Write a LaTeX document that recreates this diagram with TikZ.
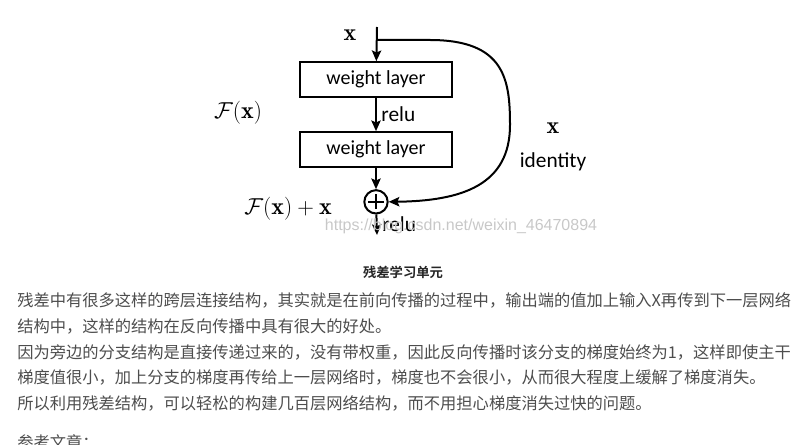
\documentclass[tikz,border=0pt]{standalone}
\usepackage{fontspec}
\usepackage{amsmath}
\setsansfont{Carlito}
\newfontfamily\cjkfont[BoldFont={Noto Sans CJK SC Bold}]{Noto Sans CJK SC}
\newfontfamily\urlfont{Liberation Sans}
\usetikzlibrary{arrows.meta, positioning}
\definecolor{bodygrey}{RGB}{77, 77, 77}
\definecolor{markgrey}{RGB}{200, 200, 200}

\begin{document}
\begin{tikzpicture}[x=0.75pt, y=-0.75pt,
    layer/.style={rectangle, draw, line width=1.5pt, minimum width=114pt, minimum height=26pt, font=\sffamily\fontsize{15}{17}\selectfont},
    adder/.style={circle, draw, line width=1.5pt, minimum size=17.5pt, inner sep=0pt,
        path picture={\draw[line width=1.6pt]
            ([xshift=3pt]path picture bounding box.west) -- ([xshift=-3pt]path picture bounding box.east)
            ([yshift=-3pt]path picture bounding box.north) -- ([yshift=3pt]path picture bounding box.south);}},
    arrow/.style={-{Stealth[length=8pt, width=7pt, inset=1.5pt]}, line width=1.5pt},
    lbl/.style={font=\sffamily\fontsize{16}{18}\selectfont},
    mathlbl/.style={font=\fontsize{18}{20}\selectfont},
    body/.style={anchor=west, inner sep=0pt, text=bodygrey, font=\cjkfont\fontsize{12.2}{14}\selectfont}
]
\useasboundingbox (0,0) rectangle (809,445);
\clip (0,0) rectangle (809,445);

% residual block
\coordinate (xin) at (377,27);
\coordinate (split) at (377,40);
\node (w1)   [layer] at (376,79.5) {weight layer};
\node (w2)   [layer, below=25pt of w1] {weight layer};
\node (plus) [adder, below=16pt of w2] {};
\coordinate (out) at (377,235);

\draw [arrow] (xin) -- (w1);
\draw [arrow] (w1) -- node[lbl, right] {relu} (w2);
\draw [arrow] (w2) -- (plus);
\draw [arrow] (plus) -- node[lbl, right, pos=0.45] {relu} (out);
\draw [arrow] (split) -- (430,40) .. controls (505,40) and (510,80) .. (510,125)
    .. controls (510,185) and (462,201) .. (plus.east);

% math labels
\node (xtop)  [mathlbl] at (350,35) {$\mathbf{x}$};
\node (fx)    [mathlbl] at (238,113) {$\mathcal{F}(\mathbf{x})$};
\node (fxx)   [mathlbl] at (288,209) {$\mathcal{F}(\mathbf{x})+\mathbf{x}$};
\node (xid)   [mathlbl] at (553,128) {$\mathbf{x}$};
\node (ident) [lbl] at (553,162) {identity};

% watermark
\node (mark) [font=\urlfont\fontsize{12}{14}\selectfont, text=markgrey] at (461,226) {https://blog.csdn.net/weixin\_46470894};

% caption and text
\node (cap) [font=\cjkfont\bfseries\fontsize{10}{12}\selectfont, text=black!85] at (403,272) {残差学习单元};
\node (p1) [body] at (17,300) {残差中有很多这样的跨层连接结构，其实就是在前向传播的过程中，输出端的值加上输入X再传到下一层网络};
\node (p2) [body] at (17,326) {结构中，这样的结构在反向传播中具有很大的好处。};
\node (p3) [body] at (17,352) {因为旁边的分支结构是直接传递过来的，没有带权重，因此反向传播时该分支的梯度始终为1，这样即使主干};
\node (p4) [body] at (17,377) {梯度值很小，加上分支的梯度再传给上一层网络时，梯度也不会很小，从而很大程度上缓解了梯度消失。};
\node (p5) [body] at (17,403) {所以利用残差结构，可以轻松的构建几百层网络结构，而不用担心梯度消失过快的问题。};
\node (p6) [body] at (17,442) {参考文章：};

\end{tikzpicture}
\end{document}
